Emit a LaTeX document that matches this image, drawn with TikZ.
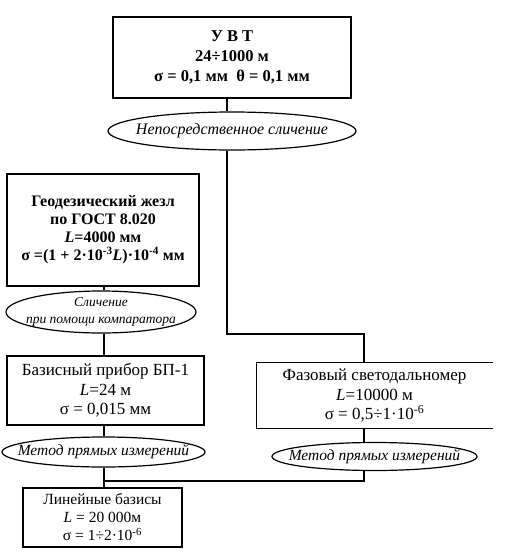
\documentclass[tikz,border=0pt]{standalone}
\usepackage{fontspec}
\setmainfont{Liberation Serif}
\usetikzlibrary{shapes.geometric}
\tikzset{
  boldbox/.style={draw, line width=2pt, inner sep=0pt, align=center,
    font=\fontsize{16}{17.5}\selectfont\bfseries},
  plainbox/.style={draw, line width=1.3pt, inner sep=0pt, align=center,
    font=\fontsize{17}{19.5}\selectfont},
  oval/.style={draw, ellipse, line width=1.2pt, inner xsep=-30pt, inner ysep=-4pt, align=center,
    font=\fontsize{15.5}{18}\selectfont\itshape},
  link/.style={line width=1.3pt}
}
\begin{document}
\begin{tikzpicture}[x=1pt,y=-1pt]
\useasboundingbox (0,0) rectangle (507,560);

% boxes
\node[boldbox, minimum width=238pt, minimum height=81pt,
      font=\fontsize{16.5}{20}\selectfont\bfseries] (uvt) at (232,57.5)
  {У В Т\\24÷1000 м\\σ = 0,1 мм\ \ θ = 0,1 мм};
\node[oval, minimum width=248pt, minimum height=38pt,
      font=\fontsize{16}{17}\selectfont\itshape] (e1) at (232,131)
  {Непосредственное сличение};

\node[boldbox, minimum width=192pt, minimum height=112pt,
      font=\fontsize{16}{18}\selectfont\bfseries] (geo) at (103,229.5)
  {Геодезический жезл\\по ГОСТ 8.020\\\textit{L}=4000 мм\\σ =(1 + 2·10\textsuperscript{-3}\textit{L})·10\textsuperscript{-4} мм};
\node[oval, minimum width=190pt, minimum height=42pt, inner ysep=-12pt,
      font=\fontsize{13.5}{17}\selectfont\itshape] (e2) at (101,312)
  {Сличение\\при помощи компаратора};

\node[plainbox, minimum width=197pt, minimum height=69pt] (bas) at (105.5,390.5)
  {Базисный прибор БП-1\\\textit{L}=24 м\\σ = 0,015 мм};
\node[oval, minimum width=203pt, minimum height=30pt] (e3) at (103.5,452)
  {Метод прямых измерений};

\node[plainbox, minimum width=159pt, minimum height=59pt,
      font=\fontsize{15.5}{18}\selectfont] (lin) at (102.5,517.5)
  {Линейные базисы\\\textit{L} = 20 000м\\σ = 1÷2·10\textsuperscript{-6}};

\node[plainbox, draw=none, minimum width=235pt, minimum height=65pt] (faz) at (374.5,395.5)
  {Фазовый светодальномер\\\textit{L}=10000 м\\σ = 0,5÷1·10\textsuperscript{-6}};
\draw[line width=1.3pt] (faz.north east) -- (faz.north west) -- (faz.south west) -- (faz.south east);
\node[oval, minimum width=205pt, minimum height=28pt] (e4) at (374.5,456.5)
  {Метод прямых измерений};

% connector coordinates
\coordinate (cu) at (227,0);
\coordinate (cl) at (104,0);
\coordinate (k1) at (227,334);
\coordinate (k2) at (364,334);
\coordinate (j) at (364,481);

% connectors
\draw[link] (cu |- uvt.south) -- (cu |- e1.north);
\draw[link] (cu |- e1.south) -- (k1) -- (k2) -- (k2 |- faz.north);

\draw[link] (cl |- geo.south) -- (cl |- e2.north);
\draw[link] (cl |- e2.south) -- (cl |- bas.north);
\draw[link] (cl |- bas.south) -- (cl |- e3.north);
\draw[link] (cl |- e3.south) -- (cl |- lin.north);

\draw[link] (k2 |- faz.south) -- (k2 |- e4.north);
\draw[link] (cl |- j) -- (j) -- (j |- e4.south);
\end{tikzpicture}
\end{document}
